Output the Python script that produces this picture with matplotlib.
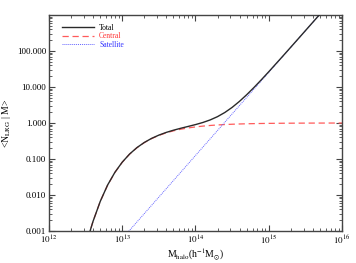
import numpy as np
import matplotlib
matplotlib.use('Agg')
import matplotlib.pyplot as plt
from matplotlib.ticker import LogLocator, FixedLocator, FixedFormatter, NullFormatter

# --- DATA ---
log_mass = [12.5, 12.55, 12.6, 12.7, 12.8, 12.9, 13.0, 13.1, 13.2, 13.3, 13.4,
            13.5, 13.6, 13.7, 13.8, 13.9, 14.0, 14.1, 14.2, 14.3, 14.4, 14.5,
            14.6, 14.7, 14.8, 14.9, 15.0, 15.2, 15.4, 15.6, 15.8, 16.0]

n_central = [3.55e-4, 8.43e-4, 1.82e-3, 6.66e-3, 0.01867, 0.04232, 0.0811, 0.1360,
             0.2050, 0.2839, 0.3679, 0.4519, 0.5321, 0.6058, 0.6716, 0.7289, 0.7779,
             0.8191, 0.8534, 0.8817, 0.9048, 0.9236, 0.9388, 0.9511, 0.9610, 0.9689,
             0.9752, 0.9843, 0.9900, 0.9937, 0.9960, 0.9975]

sat_log_mass = [13.0, 13.1, 13.2, 13.3, 13.4, 13.5, 13.6, 13.7, 13.8, 13.9, 14.0,
                14.1, 14.2, 14.3, 14.4, 14.5, 14.6, 14.7, 14.8, 14.9, 15.0, 15.2,
                15.4, 15.6, 15.8, 16.0]

n_satellite = [6.13e-4, 1.043e-3, 1.776e-3, 3.024e-3, 5.147e-3, 8.76e-3, 0.01491,
               0.02538, 0.04320, 0.07353, 0.1252, 0.2131, 0.3626, 0.6172, 1.051,
               1.788, 3.044, 5.182, 8.820, 15.01, 25.55, 74.05, 214.6, 621.7, 1801.0,
               5218.0]

n_total = [3.55e-4, 8.43e-4, 1.82e-3, 6.66e-3, 0.0189, 0.0427, 0.0817, 0.1370,
           0.2068, 0.2869, 0.3730, 0.4607, 0.5470, 0.6312, 0.7148, 0.8024, 0.9031,
           1.0322, 1.2160, 1.4989, 1.9558, 2.7116, 3.9828, 6.1331, 9.781, 15.979,
           26.525, 75.03, 215.6, 622.7, 1802.0, 5219.0]

y_ticks = [0.001, 0.01, 0.1, 1.0, 10.0, 100.0]
y_tick_labels = ['0.001', '0.010', '0.100', '1.000', '10.000', '100.000']
x_ticks = [1e12, 1e13, 1e14, 1e15, 1e16]
x_tick_labels = [r'$10^{12}$', r'$10^{13}$', r'$10^{14}$', r'$10^{15}$', r'$10^{16}$']

plt.rcParams['font.family'] = ['Liberation Serif', 'DejaVu Serif']
plt.rcParams['mathtext.fontset'] = 'stix'

fig = plt.figure(figsize=(3.56, 2.63), dpi=100)
ax = fig.add_axes([0.1376, 0.1217, 0.8231, 0.8213])

mass = 10 ** np.array(log_mass)
sat_mass = 10 ** np.array(sat_log_mass)

ax.plot(mass, n_total, color='#2a2a2a', lw=1.0, label='Total', zorder=3)
ax.plot(mass, n_central, color='#ff5a5a', lw=0.9, ls=(0, (5, 3)), label='Central', zorder=2)
ax.plot(sat_mass, n_satellite, color='#6464ff', lw=0.7, ls=(0, (1, 1)), label='Satellite', zorder=2)

ax.set_xscale('log')
ax.set_yscale('log')
ax.set_xlim(1e12, 1e16)
ax.set_ylim(1e-3, 1e3)

ax.xaxis.set_major_locator(FixedLocator(x_ticks))
ax.xaxis.set_major_formatter(FixedFormatter(x_tick_labels))
ax.xaxis.set_minor_locator(LogLocator(base=10, subs=np.arange(2, 10), numticks=20))
ax.xaxis.set_minor_formatter(NullFormatter())
ax.yaxis.set_major_locator(FixedLocator(y_ticks))
ax.yaxis.set_major_formatter(FixedFormatter(y_tick_labels))
ax.yaxis.set_minor_locator(LogLocator(base=10, subs=np.arange(2, 10), numticks=20))
ax.yaxis.set_minor_formatter(NullFormatter())

ax.tick_params(which='both', direction='in', top=True, right=True, colors='#444444',
               labelcolor='black', labelsize=6.5, pad=2)
ax.tick_params(which='major', length=4, width=0.8)
ax.tick_params(which='minor', length=2, width=0.6)
for sp in ax.spines.values():
    sp.set_color('#444444')
    sp.set_linewidth(1.0)

ax.set_xlabel(r'M$_{\mathrm{halo}}$(h$^{-1}$M$_{\odot}$)', fontsize=7, labelpad=1)
ax.set_ylabel(r'<N$_{\mathrm{LRG}}$ | M>', fontsize=7, labelpad=3)

leg = ax.legend(loc='upper left', frameon=False, fontsize=5.5, handlelength=4.2,
                handletextpad=0.7, labelspacing=0.05, borderaxespad=0.5,
                bbox_to_anchor=(0.02, 0.99))
for txt, col in zip(leg.get_texts(), ['black', '#ff3333', '#3333ff']):
    txt.set_color(col)

fig.savefig('out.png', dpi=100)
